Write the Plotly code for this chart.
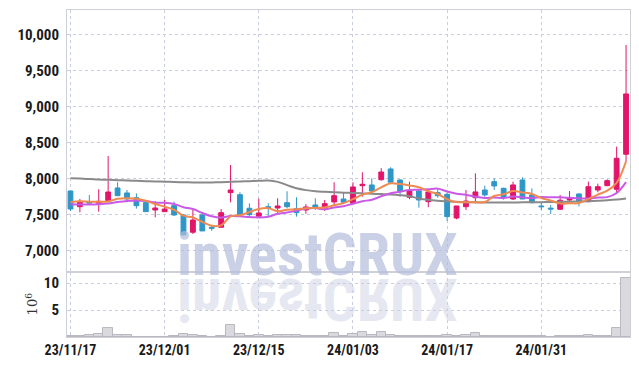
import plotly.graph_objects as go
from plotly.subplots import make_subplots

dates = ["2023-11-17","2023-11-20","2023-11-21","2023-11-22","2023-11-23","2023-11-24",
         "2023-11-27","2023-11-28","2023-11-29","2023-11-30","2023-12-01",
         "2023-12-04","2023-12-05","2023-12-06","2023-12-07","2023-12-08",
         "2023-12-11","2023-12-12","2023-12-13","2023-12-14","2023-12-15",
         "2023-12-18","2023-12-19","2023-12-20","2023-12-21","2023-12-22",
         "2023-12-26","2023-12-27","2023-12-28","2024-01-02","2024-01-03",
         "2024-01-04","2024-01-05","2024-01-08","2024-01-09","2024-01-10",
         "2024-01-11","2024-01-12","2024-01-15","2024-01-16","2024-01-17",
         "2024-01-18","2024-01-19","2024-01-22","2024-01-23","2024-01-24",
         "2024-01-25","2024-01-26","2024-01-29","2024-01-30","2024-01-31",
         "2024-02-01","2024-02-02","2024-02-05","2024-02-06","2024-02-07",
         "2024-02-08","2024-02-13","2024-02-14","2024-02-15"]

open_ = [7833,7615,7680,7662,7699,7875,7806,7740,7671,7569,
         7546,7629,7500,7260,7500,7330,7329,7810,7782,7593,
         7482,7615,7597,7671,7588,7569,7639,7597,7681,7722,
         7662,7907,7917,7990,8139,7986,7746,7833,7685,7810,
         7787,7458,7615,7740,7847,7963,7870,7722,7986,7778,
         7625,7595,7579,7708,7792,7685,7847,7907,7857,8343]
high = [7840,7722,7778,7857,8320,7954,7847,7800,7680,7694,
        7713,7685,7510,7579,7510,7361,7583,8194,7815,7662,
        7727,7662,7732,7829,7746,7650,7732,7708,7954,7815,
        7954,8093,8009,8150,8162,7995,7963,7847,7847,7860,
        7810,7625,7847,8079,7907,8009,7880,7963,8023,7870,
        7685,7639,7778,7833,7800,7963,7935,7995,8449,9861]
low = [7555,7537,7639,7546,7690,7768,7676,7588,7546,7468,
       7546,7486,7222,7236,7278,7278,7329,7676,7504,7477,
       7477,7477,7528,7593,7477,7518,7569,7555,7625,7650,
       7648,7755,7801,7976,7954,7754,7718,7602,7607,7740,
       7417,7440,7569,7662,7754,7847,7713,7708,7722,7660,
       7569,7514,7569,7685,7620,7685,7815,7900,7801,8240]
close = [7583,7676,7665,7690,7819,7768,7722,7629,7546,7597,
         7583,7500,7222,7430,7278,7315,7532,7847,7504,7504,
         7528,7593,7625,7615,7532,7611,7607,7657,7768,7676,
         7889,7926,7833,8097,7954,7833,7833,7708,7819,7768,
         7477,7625,7694,7820,7778,7903,7746,7917,7722,7671,
         7615,7583,7704,7740,7685,7893,7893,7977,8287,9181]

ma5 = [7680,7690,7685,7682,7687,7724,7733,7726,7697,7652,
       7615,7571,7490,7466,7403,7349,7355,7480,7495,7540,
       7583,7595,7551,7573,7579,7595,7598,7604,7635,7664,
       7719,7783,7818,7884,7940,7929,7910,7885,7829,7792,
       7721,7679,7677,7677,7679,7764,7788,7833,7813,7792,
       7734,7702,7659,7663,7665,7721,7783,7838,7947,8246]
ma10 = [7650,7645,7645,7650,7660,7680,7695,7700,7695,7670,
        7670,7652,7608,7582,7528,7482,7463,7485,7481,7472,
        7466,7475,7516,7534,7560,7589,7597,7578,7604,7621,
        7657,7691,7711,7760,7802,7824,7847,7852,7857,7866,
        7825,7795,7781,7753,7736,7743,7734,7755,7745,7735,
        7749,7745,7746,7738,7729,7728,7742,7748,7805,7956]
ma_long = [8010,8005,8000,7993,7988,7984,7980,7975,7970,7965,
           7962,7958,7955,7952,7950,7952,7955,7960,7965,7970,
           7975,7978,7960,7915,7870,7845,7830,7822,7815,7810,
           7805,7800,7795,7790,7785,7775,7760,7730,7710,7698,
           7690,7683,7678,7675,7673,7672,7672,7673,7675,7676,
           7678,7680,7682,7685,7688,7692,7698,7705,7715,7730]

volume_m = [0.15,0.15,0.35,0.55,1.6,0.35,0.3,0.08,0.06,0.06,
            0.06,0.25,0.55,0.35,0.2,0.05,0.2,2.2,0.55,0.25,
            0.35,0.2,0.3,0.3,0.3,0.1,0.25,0.1,0.7,0.15,
            0.5,0.87,0.3,0.87,0.3,0.15,0.12,0.1,0.1,0.1,
            0.37,0.2,0.35,0.7,0.2,0.25,0.15,0.25,0.15,0.25,
            0.1,0.05,0.15,0.15,0.1,0.3,0.15,0.15,1.6,10.9]

tick_dates = ["2023-11-17","2023-12-01","2023-12-15","2024-01-03","2024-01-17","2024-01-31"]
tick_text = ["23/11/17","23/12/01","23/12/15","24/01/03","24/01/17","24/01/31"]
price_ticks = [7000,7500,8000,8500,9000,9500,10000]
vol_ticks = [5,10]

RED = "#e2156b"
BLUE = "#2f96c8"
GRID = "#c9cde0"
AXLINE = "#cfd0d6"
FONT = "Liberation Sans Narrow, Arial Narrow, Roboto Condensed, sans-serif"

fig = make_subplots(rows=2, cols=1, shared_xaxes=True, vertical_spacing=0,
                    row_heights=[0.8012, 0.1988])

fig.add_trace(go.Scatter(x=dates, y=ma_long, mode="lines",
                         line=dict(color="#8a8a8a", width=2, shape="spline"),
                         hoverinfo="skip"), row=1, col=1)
fig.add_trace(go.Scatter(x=dates, y=ma10, mode="lines",
                         line=dict(color="#c95ae6", width=2, shape="spline"),
                         hoverinfo="skip"), row=1, col=1)
fig.add_trace(go.Scatter(x=dates, y=ma5, mode="lines",
                         line=dict(color="#ef8a50", width=2, shape="spline"),
                         hoverinfo="skip"), row=1, col=1)
fig.add_trace(go.Candlestick(x=dates, open=open_, high=high, low=low, close=close,
                             increasing=dict(line=dict(color=RED, width=1), fillcolor=RED),
                             decreasing=dict(line=dict(color=BLUE, width=1), fillcolor=BLUE),
                             whiskerwidth=0), row=1, col=1)
fig.add_trace(go.Bar(x=dates, y=volume_m,
                     marker=dict(color="#d9d9de", line=dict(color="#b9b9c2", width=1))),
              row=2, col=1)

xrange = [-0.37, 59.42]
for r in (1, 2):
    fig.update_xaxes(type="category", range=xrange, tickvals=tick_dates,
                     ticktext=tick_text, showgrid=True, gridcolor=GRID,
                     griddash="dot", gridwidth=1, showline=True, mirror=True,
                     linecolor=AXLINE, linewidth=1, rangeslider_visible=False,
                     ticks="", automargin=False, row=r, col=1)
fig.update_xaxes(showticklabels=False, row=1, col=1)
fig.update_xaxes(showticklabels=True, row=2, col=1,
                 tickfont=dict(family=FONT, size=14, color="#1a1a1a", weight="bold"))

fig.update_yaxes(range=[6708, 10347], tickvals=price_ticks, tickformat=",d",
                 showgrid=True, gridcolor=GRID, griddash="dot", gridwidth=1,
                 showline=True, mirror=True, linecolor=AXLINE, linewidth=1,
                 zeroline=False, ticks="outside", ticklen=4, tickcolor="rgba(0,0,0,0)",
                 automargin=False,
                 tickfont=dict(family=FONT, size=15, color="#1a1a1a", weight="bold"),
                 row=1, col=1)
fig.update_yaxes(range=[0, 12.04], tickvals=vol_ticks,
                 showgrid=True, gridcolor=GRID, griddash="dot", gridwidth=1,
                 showline=True, mirror=True, linecolor=AXLINE, linewidth=1,
                 zeroline=False, ticks="outside", ticklen=4, tickcolor="rgba(0,0,0,0)",
                 automargin=False,
                 tickfont=dict(family=FONT, size=15, color="#1a1a1a", weight="bold"),
                 row=2, col=1)

fig.add_annotation(text="investCRUX", xref="paper", yref="paper", x=0.4458, y=0.2508,
                   xanchor="center", yanchor="middle", showarrow=False,
                   font=dict(family=FONT, size=60, color="rgba(180,188,218,0.7)", weight="bold"))
fig.add_annotation(text="investCRUX", xref="paper", yref="paper", x=0.4458, y=0.1162,
                   xanchor="center", yanchor="middle", showarrow=False,
                   font=dict(family=FONT, size=60, color="rgba(205,210,228,0.5)", weight="bold"))
fig.add_annotation(text="10<sup>6</sup>", xref="paper", yref="paper", x=-0.062, y=0.1,
                   xanchor="center", yanchor="middle", showarrow=False, textangle=-90,
                   font=dict(family="DejaVu Serif, serif", size=13, color="#333333"))

fig.update_layout(width=639, height=366, margin=dict(l=67, r=9, t=10, b=29, autoexpand=False),
                  paper_bgcolor="white", plot_bgcolor="white", showlegend=False,
                  bargap=0, boxgap=0.27, hovermode=False)

post = """
(function(){
  document.documentElement.style.margin = '0';
  document.documentElement.style.overflow = 'hidden';
  document.body.style.margin = '0';
  document.body.style.padding = '0';
  document.body.style.overflow = 'hidden';
  var gd = document.getElementById('{plot_id}');
  function flip(){
    var t = gd.querySelector('.annotation[data-index="1"] text');
    if (t) {
      t.style.transformBox = 'fill-box';
      t.style.transformOrigin = 'center';
      t.style.transform = 'scaleY(-1)';
    }
  }
  flip();
  if (gd.on) gd.on('plotly_afterplot', flip);
  setTimeout(flip, 50);
})();
"""
fig.write_html("out.html", post_script=post, config={"displayModeBar": False})
